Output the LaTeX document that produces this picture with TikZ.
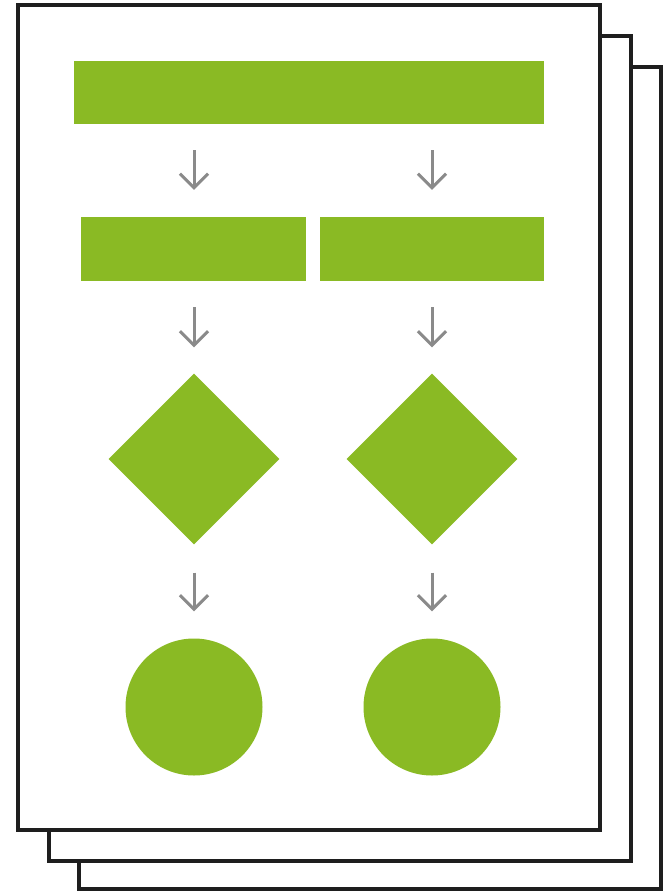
\documentclass[tikz,border=0pt]{standalone}
\usetikzlibrary{shapes.geometric,arrows.meta}
\definecolor{leaf}{HTML}{8ABA24}
\definecolor{arrowgray}{HTML}{8A8A8A}
\definecolor{edge}{HTML}{1E1E1E}
\tikzset{
  page/.style={draw=edge,line width=4pt,fill=white},
  bar/.style={fill=leaf,draw=none,rectangle,inner sep=0pt},
  dia/.style={fill=leaf,draw=none,diamond,inner sep=0pt,minimum width=171pt,minimum height=171pt},
  disc/.style={fill=leaf,draw=none,circle,inner sep=0pt,minimum size=137pt},
  arr/.style={draw=arrowgray,line width=3pt,-{Straight Barb[length=14pt,width=28pt,line width=3pt]}}
}
\begin{document}
\begin{tikzpicture}[x=1pt,y=-1pt]
\useasboundingbox (0,0) rectangle (665,891);
% stacked pages
\path[page] (79,67) rectangle (661,889);
\path[page] (49,36) rectangle (631,861);
\path[page] (18,5) rectangle (600,830);
% top bar
\node[bar,minimum width=470pt,minimum height=63pt] (top) at (309,92.5) {};
% second row
\node[bar,minimum width=225pt,minimum height=64pt] (b1) at (193.5,249) {};
\node[bar,minimum width=224pt,minimum height=64pt] (b2) at (432,249) {};
% diamonds
\node[dia] (d1) at (194,459) {};
\node[dia] (d2) at (432,459) {};
% circles
\node[disc] (c1) at (194,707) {};
\node[disc] (c2) at (432,707) {};
% arrows
\draw[arr,shorten <=26pt,shorten >=27pt] (d1.north |- top.south) -- (d1.north |- b1.north);
\draw[arr,shorten <=26pt,shorten >=27pt] (d2.north |- top.south) -- (d2.north |- b2.north);
\draw[arr,shorten <=26pt,shorten >=26pt] (d1.north |- b1.south) -- (d1.north);
\draw[arr,shorten <=26pt,shorten >=26pt] (d2.north |- b2.south) -- (d2.north);
\draw[arr,shorten <=28pt,shorten >=27pt] (d1.south) -- (c1.north);
\draw[arr,shorten <=28pt,shorten >=27pt] (d2.south) -- (c2.north);
\end{tikzpicture}
\end{document}
